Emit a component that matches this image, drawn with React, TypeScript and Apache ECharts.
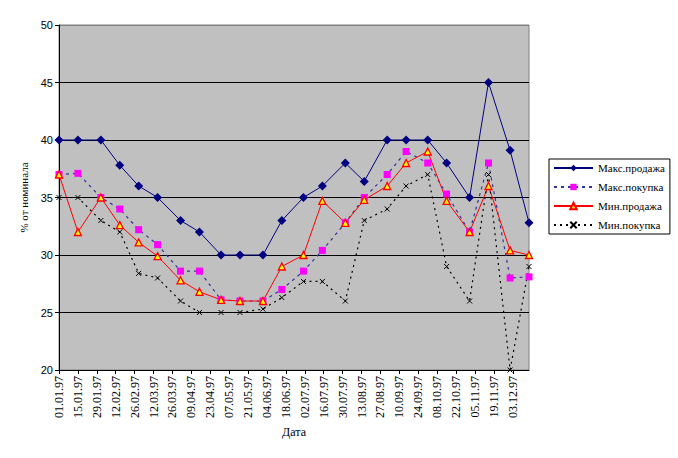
import React, { useEffect, useRef } from "react";
import * as echarts from "echarts";

const dates = [
  "01.01.97", "15.01.97", "01.02.97", "15.02.97", "01.03.97", "15.03.97",
  "01.04.97", "15.04.97", "01.05.97", "15.05.97", "01.06.97", "15.06.97",
  "01.07.97", "15.07.97", "01.08.97", "15.08.97", "01.09.97", "15.09.97",
  "01.10.97", "15.10.97", "01.11.97", "15.11.97", "01.12.97", "15.12.97",
];
const maxSale = [40, 40, 40, 37.8, 36, 35, 33, 32, 30, 30, 30, 33, 35, 36, 38, 36.4, 40, 40, 40, 38, 35, 45, 39.1, 32.8];
const maxBuy = [37, 37.1, 35, 34, 32.2, 30.9, 28.6, 28.6, 26.1, 26, 26, 27, 28.6, 30.4, 32.8, 35, 37, 39, 38, 35.3, 32, 38, 28, 28.1];
const minSale = [37, 32, 35, 32.6, 31.1, 29.9, 27.8, 26.8, 26.1, 26, 26, 29, 30, 34.7, 32.8, 34.8, 36, 38, 39, 34.7, 32, 36, 30.4, 30];
const minBuy = [35, 35, 33, 32, 28.4, 28, 26, 25, 25, 25, 25.3, 26.3, 27.7, 27.7, 26, 33, 34, 36, 37, 29, 26, 37, 20, 29];
const seriesNames = ["Макс.продажа", "Макс.покупка", "Мин.продажа", "Мин.покупка"];

const DAY = 86400000;
const BASE = Date.UTC(1997, 0, 1);
const toDay = (s: string) => {
  const [d, m, y] = s.split(".").map(Number);
  return Math.round((Date.UTC(1900 + y, m - 1, d) - BASE) / DAY);
};
const fmtDay = (v: number) => {
  const dt = new Date(BASE + v * DAY);
  const p = (n: number) => String(n).padStart(2, "0");
  return `${p(dt.getUTCDate())}.${p(dt.getUTCMonth() + 1)}.${String(dt.getUTCFullYear()).slice(2)}`;
};
const pairs = (vals: number[]) => vals.map((v, i) => [toDay(dates[i]), v]);

export default function App() {
  const ref = useRef<HTMLDivElement>(null);
  useEffect(() => {
    document.body.style.margin = "0";
    const chart = echarts.init(ref.current!, null, { renderer: "svg" });
    const serif = "Liberation Serif";
    const sans = "Liberation Sans";
    chart.setOption({
      animation: false,
      backgroundColor: "#ffffff",
      textStyle: { fontFamily: serif },
      grid: {
        left: 59,
        top: 25,
        right: 149,
        bottom: 88,
        show: true,
        backgroundColor: "#C0C0C0",
        borderColor: "#808080",
        borderWidth: 1,
      },
      legend: {
        orient: "vertical",
        left: 549,
        top: 159,
        data: seriesNames,
        backgroundColor: "#ffffff",
        borderColor: "#000000",
        borderWidth: 1,
        borderRadius: 0,
        padding: [3, 5, 3, 4],
        itemWidth: 39,
        itemHeight: 8,
        itemGap: 7,
        textStyle: { fontFamily: serif, fontSize: 11, color: "#000", lineHeight: 12 },
      },
      xAxis: {
        type: "value",
        min: 0,
        max: toDay(dates[dates.length - 1]),
        interval: 14,
        name: "Дата",
        nameLocation: "middle",
        nameGap: 56,
        nameTextStyle: { fontFamily: serif, fontSize: 12, color: "#000" },
        axisLine: { lineStyle: { color: "#000", width: 1 } },
        axisTick: { show: true, length: 4, lineStyle: { color: "#000" } },
        splitLine: { show: false },
        axisLabel: {
          rotate: 90,
          margin: 6,
          showMaxLabel: false,
          fontFamily: serif,
          fontSize: 12,
          color: "#000",
          formatter: (v: number) => (v % 14 === 0 ? fmtDay(v) : ""),
        },
      },
      yAxis: {
        type: "value",
        min: 20,
        max: 50,
        interval: 5,
        name: "% от номинала",
        nameLocation: "middle",
        nameGap: 30,
        nameTextStyle: { fontFamily: serif, fontSize: 11, color: "#000" },
        axisLine: { show: true, lineStyle: { color: "#000", width: 1 } },
        axisTick: { show: true, length: 4, lineStyle: { color: "#000" } },
        splitLine: {
          show: true,
          lineStyle: {
            color: ["#000", "#000", "#000", "#000", "#000", "#000", "#808080"],
            width: 1,
          },
        },
        axisLabel: { margin: 6, fontFamily: sans, fontSize: 11, color: "#000" },
      },
      series: [
        {
          name: seriesNames[0],
          type: "line",
          data: pairs(maxSale),
          symbol: "diamond",
          symbolSize: 9,
          itemStyle: { color: "#000080" },
          lineStyle: { color: "#000080", width: 1 },
        },
        {
          name: seriesNames[1],
          type: "line",
          data: pairs(maxBuy),
          symbol: "rect",
          symbolSize: 7,
          itemStyle: { color: "#FF00FF" },
          lineStyle: { color: "#333399", width: 1.2, type: [3, 4] },
        },
        {
          name: seriesNames[2],
          type: "line",
          data: pairs(minSale),
          symbol: "triangle",
          symbolSize: 7,
          itemStyle: { color: "#FFFF00", borderColor: "#FF0000", borderWidth: 1.3 },
          lineStyle: { color: "#FF0000", width: 1 },
        },
        {
          name: seriesNames[3],
          type: "line",
          data: pairs(minBuy),
          symbol: "path://M0,0L8,8M8,0L0,8",
          symbolSize: 5,
          itemStyle: { color: "#000", borderColor: "#000", borderWidth: 1 },
          lineStyle: { color: "#000", width: 1.2, type: [2, 4] },
        },
      ],
    });
    return () => chart.dispose();
  }, []);
  return <div ref={ref} style={{ width: 678, height: 458 }} />;
}
